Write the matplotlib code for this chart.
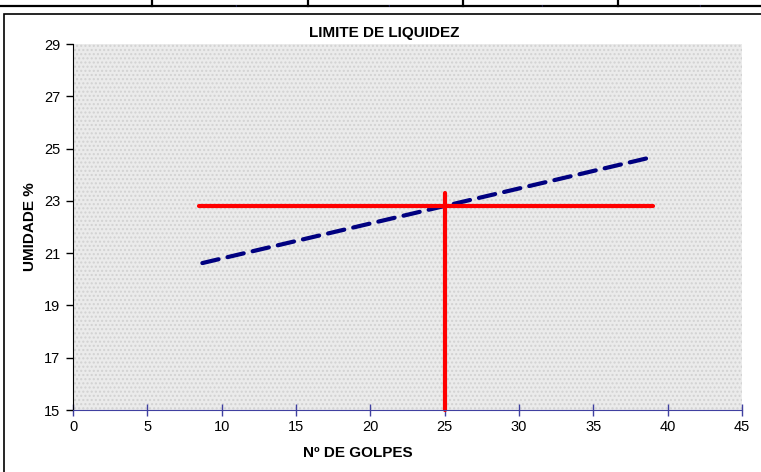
import matplotlib.pyplot as plt
from matplotlib.lines import Line2D
from matplotlib.patches import Rectangle

plt.rcParams['font.family'] = ['Liberation Sans', 'DejaVu Sans']

# trend line (Nº de golpes x umidade)
golpes = [8.7, 39.0]
umidade = [20.62, 24.68]

# liquid limit at 25 blows
ll_golpes = 25
ll_umidade = 22.8
ll_x_range = [8.5, 39.0]

x_ticks = [0, 5, 10, 15, 20, 25, 30, 35, 40, 45]
y_ticks = [15, 17, 19, 21, 23, 25, 27, 29]

W, H = 761, 472
fig = plt.figure(figsize=(W / 100, H / 100), dpi=100)

# leftover spreadsheet table lines at the top
fig.add_artist(Line2D([0, 1], [1 - 6 / H, 1 - 6 / H], color='black', lw=1.6))
for px in [152, 308, 463, 618]:
    fig.add_artist(Line2D([px / W, px / W], [1 - 6 / H, 1], color='black', lw=1.6))
for px in [235, 388, 541, 699]:
    fig.text(px / W, 1 - 1 / H, ',', color='#4040a0', fontsize=6, ha='center', va='top')

# chart area border
fig.add_artist(Rectangle((4 / W, -0.01), 1.0, 1 - 14 / H + 0.01, transform=fig.transFigure,
                         fill=False, edgecolor='black', lw=1.2))

ax = fig.add_axes([73 / W, 1 - 410 / H, (742 - 73) / W, (410 - 44) / H])
ax.set_facecolor('#ebebeb')
ax.add_patch(Rectangle((0, 0), 1, 1, transform=ax.transAxes, facecolor='none',
                       edgecolor='#d2d2d2', hatch='....', lw=0, zorder=0))

ax.plot(golpes, umidade, color='#000080', lw=3, linestyle=(0, (4, 2.2)),
        solid_capstyle='round', dash_capstyle='round', zorder=3)
ax.plot(ll_x_range, [ll_umidade, ll_umidade], color='#ff0000', lw=3,
        solid_capstyle='round', zorder=4)
ax.plot([ll_golpes, ll_golpes], [15, 23.3], color='#ff0000', lw=3,
        solid_capstyle='round', zorder=4, clip_on=False)

ax.set_xlim(0, 45)
ax.set_ylim(15, 29)
ax.set_xticks(x_ticks)
ax.set_yticks(y_ticks)

for side in ['top', 'right']:
    ax.spines[side].set_visible(False)
ax.spines['left'].set_color('black')
ax.spines['bottom'].set_color('#4040a0')
ax.spines['bottom'].set_zorder(5)

ax.tick_params(axis='y', direction='out', length=5, width=1, colors='black', labelsize=10.5, pad=4)
ax.tick_params(axis='x', direction='inout', length=8, width=1, color='#4040a0',
               labelcolor='black', labelsize=10.5, pad=3)

fig.text(384 / W, 1 - 33 / H, 'LIMITE DE LIQUIDEZ', ha='center', va='center',
         fontsize=11, fontweight='bold')
fig.text(30 / W, 1 - 227 / H, 'UMIDADE %', ha='center', va='center', rotation=90,
         fontsize=11, fontweight='bold')
fig.text(358 / W, 1 - 453 / H, 'Nº DE GOLPES', ha='center', va='center',
         fontsize=11, fontweight='bold')

fig.savefig('out.png', dpi=100, facecolor='white')
